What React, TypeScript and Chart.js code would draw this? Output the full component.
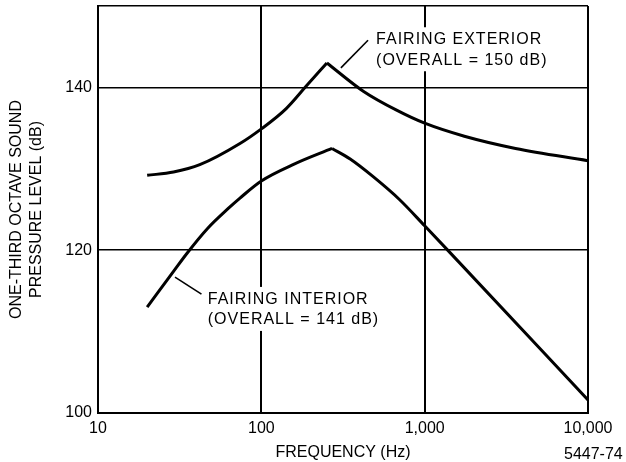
import React, { useEffect, useRef } from 'react';
import { Chart, registerables } from 'chart.js';

Chart.register(...registerables);

// ---- data ----
const EXTERIOR_FREQ = [20, 29, 42, 74, 100, 142, 189, 252, 423, 673, 1000, 1750, 3600, 10000];
const EXTERIOR_DB = [129.2, 129.6, 130.5, 133.1, 134.9, 137.4, 140.2, 143.0, 139.5, 137.2, 135.6, 134.0, 132.5, 131.0];
const INTERIOR_FREQ = [20, 29, 35, 47, 62.5, 74, 100, 160, 271, 350, 486, 703, 1000, 1430, 10000];
const INTERIOR_DB = [113.0, 117.4, 119.6, 122.7, 125.1, 126.4, 128.5, 130.6, 132.5, 131.2, 129.0, 126.2, 123.0, 119.7, 101.6];

const X_TICKS = [10, 100, 1000, 10000];
const Y_TICKS = [100, 120, 140, 150];
const Y_LABELED = [100, 120, 140];

const X_TITLE = 'FREQUENCY (Hz)';
const Y_TITLE = ['ONE-THIRD OCTAVE SOUND', 'PRESSURE LEVEL (dB)'];
const FIGURE_ID = '5447-74';

const CALLOUT_TEXT = [
  ['FAIRING EXTERIOR', '(OVERALL = 150 dB)'],
  ['FAIRING INTERIOR', '(OVERALL = 141 dB)'],
];

// callout placement (data units: [Hz, dB])
const CALLOUT_POS = [
  { textAt: [504, 145.3], leaderFrom: [307, 142.4], leaderTo: [450, 145.8] },
  { textAt: [47, 113.4], leaderFrom: [29.6, 116.7], leaderTo: [43, 114.6] },
];

const FONT = "'Liberation Sans', Arial, Helvetica, sans-serif";

// split a curve at its peak so each side is drawn smooth while the peak stays sharp
const splitAtPeak = (xs: number[], ys: number[]) => {
  const pk = ys.indexOf(Math.max(...ys));
  const pts = xs.map((x, i) => ({ x, y: ys[i] }));
  return [pts.slice(0, pk + 1), pts.slice(pk)];
};

const calloutPlugin = {
  id: 'callouts',
  beforeDatasetsDraw(chart: any) {
    const { ctx, scales } = chart;
    const x = scales.x, y = scales.y;
    ctx.save();
    ctx.font = `16px ${FONT}`;
    (ctx as any).letterSpacing = '1px';
    CALLOUT_POS.forEach((p, i) => {
      const lines = CALLOUT_TEXT[i];
      const tx = x.getPixelForValue(p.textAt[0]);
      const ty = y.getPixelForValue(p.textAt[1]);
      const w = Math.max(...lines.map((l) => ctx.measureText(l).width));
      ctx.fillStyle = '#fff';
      ctx.fillRect(tx - 4, ty - 17, w + 8, 20 * (lines.length - 1) + 24);
    });
    ctx.restore();
  },
  afterDatasetsDraw(chart: any) {
    const { ctx, scales } = chart;
    const x = scales.x, y = scales.y;
    ctx.save();
    ctx.font = `16px ${FONT}`;
    (ctx as any).letterSpacing = '1px';
    ctx.fillStyle = '#000';
    ctx.strokeStyle = '#000';
    ctx.lineWidth = 1.6;
    ctx.textBaseline = 'alphabetic';
    ctx.textAlign = 'left';
    CALLOUT_POS.forEach((p, i) => {
      const lines = CALLOUT_TEXT[i];
      const tx = x.getPixelForValue(p.textAt[0]);
      const ty = y.getPixelForValue(p.textAt[1]);
      lines.forEach((l, k) => ctx.fillText(l, tx, ty + k * 20.5));
      ctx.beginPath();
      ctx.moveTo(x.getPixelForValue(p.leaderFrom[0]), y.getPixelForValue(p.leaderFrom[1]));
      ctx.lineTo(x.getPixelForValue(p.leaderTo[0]), y.getPixelForValue(p.leaderTo[1]));
      ctx.stroke();
    });
    (ctx as any).letterSpacing = '0px';
    ctx.fillText(FIGURE_ID, x.right - 24, chart.height - 3);
    ctx.restore();
  },
};

export default function App() {
  const ref = useRef<HTMLCanvasElement | null>(null);

  useEffect(() => {
    if (!ref.current) return;
    const font = { family: FONT, size: 16, lineHeight: 1.2 };
    const lineStyle = {
      borderColor: '#000',
      borderWidth: 3,
      pointRadius: 0,
      cubicInterpolationMode: 'monotone',
      fill: false,
    };
    const [extUp, extDown] = splitAtPeak(EXTERIOR_FREQ, EXTERIOR_DB);
    const [intUp, intDown] = splitAtPeak(INTERIOR_FREQ, INTERIOR_DB);
    const chart = new Chart(ref.current, {
      type: 'line',
      data: {
        datasets: [
          { label: 'FAIRING EXTERIOR', data: extUp, ...lineStyle },
          { label: 'FAIRING EXTERIOR ', data: extDown, ...lineStyle },
          { label: 'FAIRING INTERIOR', data: intUp, ...lineStyle },
          { label: 'FAIRING INTERIOR ', data: intDown, ...lineStyle },
        ],
      },
      options: {
        responsive: false,
        animation: false,
        events: [],
        layout: { padding: { left: 0, right: 38, top: 6, bottom: 0 } },
        plugins: {
          legend: { display: false },
          tooltip: { enabled: false },
          title: { display: false },
        },
        scales: {
          x: {
            type: 'logarithmic',
            min: 10,
            max: 10000,
            afterBuildTicks: (s: any) => {
              s.ticks = X_TICKS.map((v) => ({ value: v }));
            },
            afterFit: (s: any) => {
              s.height = 49;
              s.paddingLeft = 0;
              s.paddingRight = 0;
            },
            ticks: {
              autoSkip: false,
              maxRotation: 0,
              padding: 6,
              color: '#000',
              font,
              callback: (v: any) => Number(v).toLocaleString('en-US'),
            },
            grid: { color: '#000', lineWidth: 2, drawTicks: false },
            border: { color: '#000', width: 2 },
            title: {
              display: true,
              text: X_TITLE,
              color: '#000',
              font,
              padding: { top: 0, bottom: 0 },
            },
          },
          y: {
            type: 'linear',
            min: 100,
            max: 150,
            afterBuildTicks: (s: any) => {
              s.ticks = Y_TICKS.map((v) => ({ value: v }));
            },
            afterFit: (s: any) => {
              s.width = 98;
              s.paddingTop = 0;
              s.paddingBottom = 0;
            },
            ticks: {
              autoSkip: false,
              padding: 6,
              color: '#000',
              font,
              callback: (v: any) => (Y_LABELED.includes(Number(v)) ? String(v) : ''),
            },
            grid: { color: '#000', lineWidth: 1.5, drawTicks: false },
            border: { color: '#000', width: 2 },
            title: {
              display: true,
              text: Y_TITLE,
              color: '#000',
              font: { family: FONT, size: 16, lineHeight: 1.25 },
              padding: { top: 7, bottom: 0 },
            },
          },
        },
      },
      plugins: [calloutPlugin],
    } as any);
    return () => chart.destroy();
  }, []);

  return (
    <div style={{ position: 'fixed', left: 0, top: 0, width: 626, height: 462, background: '#fff' }}>
      <canvas ref={ref} width={626} height={462} style={{ display: 'block', width: 626, height: 462 }} />
    </div>
  );
}
